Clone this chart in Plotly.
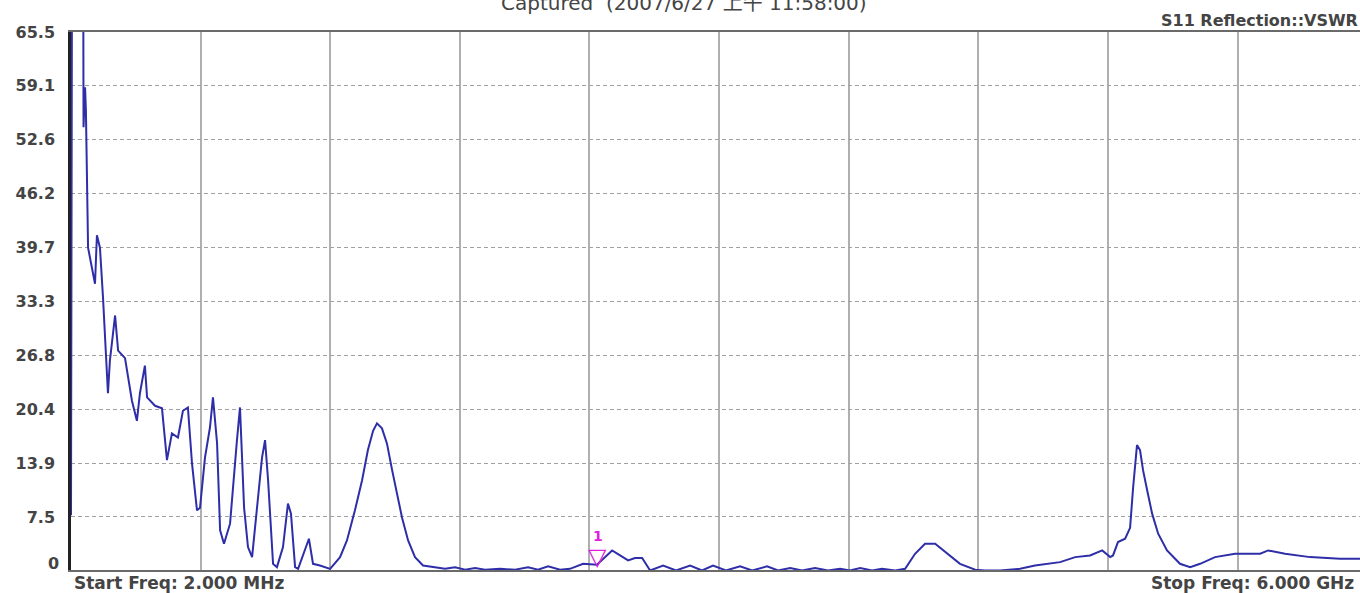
import plotly.graph_objects as go

# Frequency (MHz) and VSWR
freq_mhz = [2, 7, 58, 60, 67, 71, 81, 113, 122, 136, 150, 159, 173, 182, 206, 220, 252, 284, 307, 321,
            344, 354, 391, 423, 446, 469, 497, 520, 543, 562, 585, 599, 622, 645, 659, 678, 692, 710, 738,
            770, 784, 803, 821, 840, 867, 886, 900, 914, 937, 955, 983, 1006, 1020, 1039, 1053, 1085, 1103,
            1122, 1154, 1201, 1247, 1279, 1316, 1349, 1376, 1400, 1418, 1441, 1464, 1488, 1511, 1534, 1562,
            1594, 1631, 1677, 1733, 1779, 1826, 1872, 1918, 1987, 2057, 2117, 2163, 2210, 2265, 2311, 2372,
            2436, 2506, 2543, 2580, 2612, 2645, 2682, 2742, 2802, 2867, 2922, 2973, 3033, 3098, 3154, 3223,
            3274, 3330, 3385, 3445, 3505, 3561, 3607, 3654, 3709, 3755, 3816, 3862, 3908, 3954, 4001, 4047,
            4116, 4186, 4232, 4301, 4394, 4463, 4533, 4579, 4649, 4718, 4774, 4811, 4824, 4847, 4880, 4903,
            4917, 4935, 4949, 4963, 4982, 5005, 5033, 5074, 5134, 5181, 5227, 5296, 5389, 5505, 5542, 5620,
            5736, 5875, 6000]
vswr = [7.7, 80, 80, 54.1, 58.9, 56.1, 39.7, 35.4, 41.2, 39.7, 33.8, 28.6, 22.3, 26.2, 31.6, 27.4, 26.5,
        21.4, 19.0, 22.3, 25.6, 21.8, 20.8, 20.5, 14.3, 17.5, 17.0, 20.2, 20.6, 13.9, 8.3, 8.6, 14.6, 18.2,
        21.8, 16.3, 5.9, 4.3, 6.7, 16.7, 20.6, 8.6, 3.9, 2.7, 9.5, 14.6, 16.7, 11.9, 1.9, 1.5, 3.9, 9.1,
        7.9, 1.5, 1.3, 3.5, 4.9, 1.9, 1.7, 1.3, 2.7, 4.7, 8.3, 11.9, 15.5, 17.8, 18.7, 18.1, 16.3, 13.1,
        10.3, 7.4, 4.7, 2.7, 1.7, 1.5, 1.3, 1.5, 1.2, 1.4, 1.2, 1.3, 1.2, 1.5, 1.2, 1.6, 1.2, 1.3, 1.9,
        1.8, 3.5, 2.9, 2.3, 2.6, 2.6, 1.1, 1.7, 1.1, 1.7, 1.1, 1.7, 1.1, 1.6, 1.1, 1.6, 1.1, 1.4, 1.1,
        1.4, 1.1, 1.3, 1.1, 1.4, 1.1, 1.3, 1.1, 1.3, 3.1, 4.3, 4.3, 3.3, 1.9, 1.2, 1.1, 1.1, 1.3, 1.7,
        1.9, 2.1, 2.7, 2.9, 3.5, 2.7, 2.9, 4.5, 4.9, 6.2, 11.0, 16.1, 15.5, 13.1, 10.7, 7.9, 5.5, 3.5,
        1.9, 1.5, 1.9, 2.7, 3.1, 3.1, 3.5, 3.1, 2.7, 2.5, 2.5]

y_ticks = [65.5, 59.1, 52.6, 46.2, 39.7, 33.3, 26.8, 20.4, 13.9, 7.5]
y_tick_text = ["65.5", "59.1", "52.6", "46.2", "39.7", "33.3", "26.8", "20.4", "13.9", "7.5"]
y_bottom = 1.16
y_bottom_label = "0"
x_start, x_visible_end = 2, 5967
x_grid_step = 599.8

marker_freq = 2440
marker_label = "1"

title_text = "Captured \u00a0(2007/6/27 上午 11:58:00)"
trace_name = "S11 Reflection::VSWR"
start_text = "Start Freq: 2.000 MHz"
stop_text = "Stop Freq: 6.000 GHz"

FONT = "DejaVu Sans, Noto Sans CJK SC, sans-serif"
TXT = "#444444"
MAGENTA = "#e020e0"

fig = go.Figure()
fig.add_trace(go.Scatter(x=freq_mhz, y=vswr, mode="lines",
                         line=dict(color="#2e2ea8", width=2), showlegend=False,
                         hoverinfo="skip"))

fig.update_layout(
    width=1360, height=593,
    margin=dict(l=71, r=0, t=32, b=23),
    paper_bgcolor="white", plot_bgcolor="white",
    font=dict(family=FONT, color=TXT),
    xaxis=dict(range=[x_start, x_visible_end], tick0=x_start, dtick=x_grid_step,
               showticklabels=False, ticks="", showgrid=True, gridcolor="#b0b0b0",
               gridwidth=1.5, zeroline=False, showline=True, linecolor="#6a6a6a",
               linewidth=2, mirror=True),
    yaxis=dict(range=[y_bottom, 65.5], tickvals=y_ticks, ticktext=y_tick_text,
               tickfont=dict(size=16, color=TXT, family=FONT, weight="bold"), ticks="",
               ticklabelstandoff=10, showgrid=True, gridcolor="#a0a0a0",
               griddash="4px,3px", gridwidth=1.2, zeroline=False,
               showline=True, linecolor="#222222", linewidth=2.5),
)

fig.add_annotation(text=y_bottom_label, xref="paper", yref="y", x=-0.008, y=y_bottom,
                   xanchor="right", yanchor="middle", yshift=7, showarrow=False,
                   font=dict(size=16, color=TXT, family=FONT, weight="bold"))
fig.add_annotation(text=title_text, xref="paper", yref="paper", x=0.4756, y=1.054,
                   xanchor="center", yanchor="middle", showarrow=False,
                   font=dict(size=20, color=TXT, family=FONT))
fig.add_annotation(text=trace_name, xref="paper", yref="paper", x=1, y=1.0,
                   xanchor="right", yanchor="bottom", yshift=0, showarrow=False,
                   font=dict(size=16, color=TXT, family=FONT, weight="bold"))
fig.add_annotation(text=start_text, xref="paper", yref="paper", x=0.001, y=0,
                   xanchor="left", yanchor="top", yshift=-1, showarrow=False,
                   font=dict(size=17, color=TXT, family=FONT, weight="bold"))
fig.add_annotation(text=stop_text, xref="paper", yref="paper", x=0.997, y=0,
                   xanchor="right", yanchor="top", yshift=-1, showarrow=False,
                   font=dict(size=17, color=TXT, family=FONT, weight="bold"))
fig.add_annotation(text="▽", x=marker_freq, y=y_bottom,
                   xanchor="center", yanchor="bottom", yshift=-3, showarrow=False,
                   font=dict(size=24, color=MAGENTA, family=FONT))
fig.add_annotation(text="<b>" + marker_label + "</b>", x=marker_freq, y=y_bottom,
                   xanchor="center", yanchor="bottom", yshift=24, showarrow=False,
                   font=dict(size=14, color=MAGENTA, family=FONT))

fig.write_html("out.html", config={"displayModeBar": False},
               post_script="document.body.style.margin='0';")
